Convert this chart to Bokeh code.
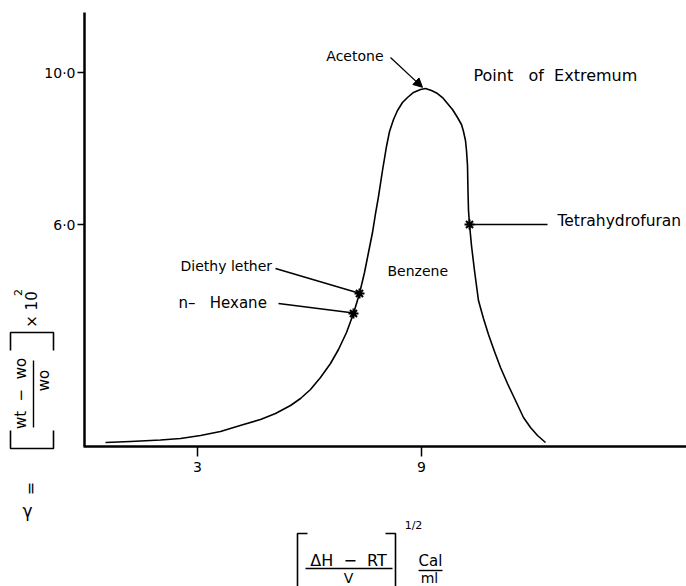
import math
from bokeh.plotting import figure
from bokeh.models import Label, Arrow, NormalHead, FixedTicker, Range1d
from bokeh.embed import file_html
from bokeh.resources import INLINE

# ---- data ----
curve_x = [0.536, 1.205, 2.009, 2.545, 3.081, 3.616, 4.233, 4.688, 5.090, 5.492,
           5.760, 6.027, 6.295, 6.563, 6.777, 6.992, 7.179, 7.340, 7.474, 7.581,
           7.688, 7.769, 7.849, 7.956, 8.063, 8.144, 8.251, 8.358, 8.492, 8.626,
           8.787, 8.974, 9.108, 9.269, 9.429, 9.563, 9.697, 9.831, 9.965, 10.072,
           10.126, 10.179, 10.206, 10.233, 10.246, 10.260, 10.287, 10.340, 10.420,
           10.527, 10.661, 10.795, 10.956, 11.117, 11.304, 11.519, 11.733, 11.921,
           12.108, 12.323]
curve_y = [0.263, 0.289, 0.329, 0.368, 0.447, 0.553, 0.737, 0.868, 1.026, 1.237,
           1.421, 1.658, 1.974, 2.342, 2.711, 3.158, 3.658, 4.184, 4.737, 5.263,
           5.789, 6.289, 6.737, 7.421, 8.053, 8.447, 8.763, 9.000, 9.211, 9.342,
           9.474, 9.553, 9.579, 9.526, 9.447, 9.342, 9.184, 9.026, 8.816, 8.632,
           8.447, 8.211, 7.947, 7.553, 6.895, 6.368, 6.000, 5.447, 4.789,
           4.000, 3.526, 3.105, 2.658, 2.237, 1.816, 1.368, 0.921, 0.658,
           0.447, 0.263]

NB = "\u00a0"
solvent_names = ["n\u2013" + NB + NB + " Hexane", "Diethy lether", "Tetrahydrofuran"]
solvent_x = [7.179, 7.340, 10.287]
solvent_y = [3.658, 4.184, 6.000]

peak_name = "Acetone"
peak_x = 9.108
peak_y = 9.579

x_ticks = [3, 9]
x_tick_labels = ["3", "9"]
y_ticks = [6, 10]
y_tick_labels = ["6\u00b70", "10\u00b70"]

FONT = "DejaVu Sans"
W, H = 686, 586

# page-layout helpers (pixel of the page -> value on the chart's own scales)
def X(px):
    return (px - 85) / 37.33

def Y(py):
    return 10 - (py - 72) / 38.0

p = figure(width=W, height=H, output_backend="svg", toolbar_location=None,
           title=None, min_border=0,
           x_range=Range1d(X(0), X(W)), y_range=Range1d(Y(H), Y(0)))
p.outline_line_color = None
p.xgrid.visible = False
p.ygrid.visible = False
p.background_fill_color = "white"
p.border_fill_color = "white"

# axes drawn by Bokeh at fixed positions inside the frame
p.xaxis.fixed_location = Y(446)
p.yaxis.fixed_location = X(84)
p.xaxis.bounds = (X(83), X(W))
p.yaxis.bounds = (Y(446), Y(12))

for ax in (p.xaxis[0], p.yaxis[0]):
    ax.axis_line_width = 2.5
    ax.axis_line_color = "black"
    ax.major_tick_line_width = 1.5
    ax.major_tick_in = 0
    ax.minor_tick_line_color = None
    ax.major_label_text_font = FONT
    ax.major_label_text_font_size = "14px"
    ax.major_label_text_color = "black"

p.xaxis.ticker = FixedTicker(ticks=x_ticks)
p.xaxis.major_label_overrides = {t: s for t, s in zip(x_ticks, x_tick_labels)}
p.xaxis.major_tick_out = 10
p.xaxis.major_label_standoff = 5
p.yaxis.ticker = FixedTicker(ticks=y_ticks)
p.yaxis.major_label_overrides = {t: s for t, s in zip(y_ticks, y_tick_labels)}
p.yaxis.major_tick_out = 7
p.yaxis.major_label_standoff = 2

# curve
p.line(curve_x, curve_y, line_color="black", line_width=1.6, line_join="round")

# star markers
p.scatter(solvent_x, solvent_y, marker="asterisk", size=10, line_color="black",
          line_width=2)

# annotation texts (data units)
def lab(x, y, t, align="left", size="14px"):
    p.add_layout(Label(x=x, y=y, text=t, text_font=FONT, text_font_size=size,
                       text_align=align, text_baseline="middle", text_color="black"))

lab(X(383), Y(55), peak_name, align="right")
lab(X(473), Y(75), "Point" + NB + NB + " of" + NB + " Extremum", size="16px")
lab(X(180), Y(265), solvent_names[1])
lab(X(178), Y(302), solvent_names[0], size="15px")
lab(X(387), Y(270), "Benzene")
lab(X(557), Y(220), solvent_names[2], size="15.5px")

# leader lines
p.segment(x0=[X(275), X(278), solvent_x[2]], y0=[Y(268), Y(303), solvent_y[2]],
          x1=[solvent_x[1] - 0.05, solvent_x[0] - 0.05, X(547)],
          y1=[solvent_y[1] + 0.02, solvent_y[0] + 0.02, solvent_y[2]],
          line_color="black", line_width=1.5)
p.add_layout(Arrow(end=NormalHead(size=9, fill_color="black", line_color="black"),
                   x_start=X(390), y_start=Y(57), x_end=peak_x - 0.08, y_end=peak_y + 0.03,
                   line_color="black", line_width=1.3))

# ---- axis titles ----
def tlab(px, py, t, size="14px", angle=0.0):
    p.add_layout(Label(x=X(px), y=Y(py), text=t, text_font=FONT, text_font_size=size,
                       angle=angle, text_align="center", text_baseline="middle",
                       text_color="black"))

def tline(pxs, pys, w=1.6):
    p.line([X(v) for v in pxs], [Y(v) for v in pys], line_color="black", line_width=w)

R = math.pi / 2
# y-axis title (rotated)
tlab(27, 510, "\u03b3", size="17px")
tlab(30, 488, "=", size="16px", angle=R)
tline([10, 10, 53, 53], [430, 448, 448, 430])
tline([10, 10, 53, 53], [350, 332, 332, 350])
tlab(20, 393, "wt" + NB + " \u2212" + NB + " wo", size="15px", angle=R)
tline([33, 33], [360, 427], w=1.4)
tlab(43, 380, "wo", size="15px", angle=R)
tlab(31, 309, "\u00d7 10", size="15px", angle=R)
tlab(17, 292, "2", size="11px", angle=R)

# x-axis title
tline([307, 297, 297], [533, 533, 590])
tline([385, 395, 395], [533, 533, 590])
tlab(348, 560, "\u0394H" + NB + " \u2212" + NB + " RT", size="16px")
tline([305, 392], [568, 568], w=1.4)
tlab(348, 577, "V", size="14px")
tlab(413, 525, "1/2", size="11px")
tlab(430, 560, "Cal", size="15px")
tline([418, 442], [570, 570], w=1.4)
tlab(429, 577, "ml", size="14px")

open("out.html", "w").write(file_html(p, INLINE))
